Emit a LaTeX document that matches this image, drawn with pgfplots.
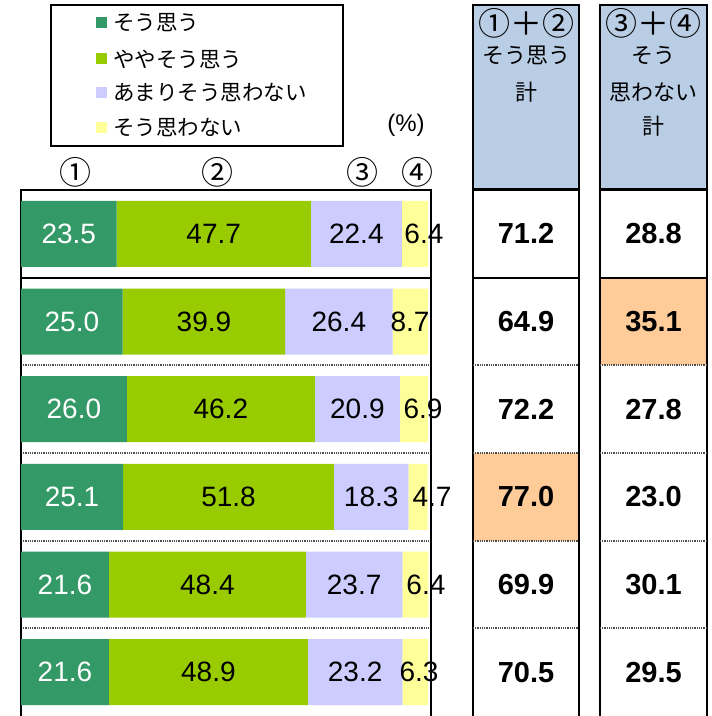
\documentclass[border=0pt]{standalone}
\usepackage{pgfplots}
\pgfplotsset{compat=1.18}
\usepackage{fontspec}
\setmainfont{Liberation Sans}
\newfontfamily\jp{Noto Sans CJK JP}

\definecolor{cA}{HTML}{339966}
\definecolor{cB}{HTML}{99CC00}
\definecolor{cC}{HTML}{CCCCFF}
\definecolor{cD}{HTML}{FFFF99}
\definecolor{hdr}{HTML}{B9CDE5}
\definecolor{hot}{HTML}{FFCC99}

\tikzset{
  sep/.style={line width=1.8pt, draw=black!70, dash pattern=on 0.9pt off 0.9pt},
  frame/.style={line width=1.8pt, draw=black},
}
\pgfplotsset{
  rows/.style={scale only axis, height=526pt, ymin=0.5, ymax=6.5,
    y dir=reverse, hide axis, clip=false, anchor=south west},
  lab/.style={draw=none, mark=none, nodes near coords, point meta=explicit symbolic},
}

\begin{document}
\begin{tikzpicture}[x=1pt,y=1pt]
\useasboundingbox (0,0) rectangle (712,716);

% legend
\draw[line width=1.3pt] (51,711) rectangle (343,570);
\foreach \yy/\cc/\lab in {693/cA/そう思う, 657/cB/ややそう思う, 623/cC/あまりそう思わない, 588/cD/そう思わない}{
  \fill[\cc] (96,\yy-5.5) rectangle (107,\yy+5.5);
  \node[anchor=west, inner sep=0pt, font=\jp\fontsize{21.5}{24}\selectfont] at (113,\yy) {\lab};
}
\node[font=\fontsize{24}{26}\selectfont] at (406,591) {(\%)};
\foreach \xx/\lab in {75/①, 217/②, 362/③, 417/④}
  \node[font=\jp\fontsize{32}{34}\selectfont] at (\xx,544) {\lab};

% stacked bars
\begin{axis}[rows, at={(21pt,0pt)}, width=410pt, xmin=0, xmax=100.74,
  xbar stacked, bar width=66pt]
\addplot[fill=cA, draw=none] coordinates {(23.5,1) (25.0,2) (26.0,3) (25.1,4) (21.6,5) (21.6,6)};
\addplot[fill=cB, draw=none] coordinates {(47.7,1) (39.9,2) (46.2,3) (51.8,4) (48.4,5) (48.9,6)};
\addplot[fill=cC, draw=none] coordinates {(22.4,1) (26.4,2) (20.9,3) (18.3,4) (23.7,5) (23.2,6)};
\addplot[fill=cD, draw=none] coordinates {(6.4,1) (8.7,2) (6.9,3) (4.7,4) (6.4,5) (6.3,6)};
\draw[frame] (axis cs:0,6.5) -- (axis cs:0,0.5) -- (axis cs:100.74,0.5) -- (axis cs:100.74,6.5);
\draw[frame] (axis cs:0,1.5) -- (axis cs:100.74,1.5);
\pgfplotsinvokeforeach{2.5,3.5,4.5,5.5}{\draw[sep] (axis cs:0,#1) -- (axis cs:100.74,#1);}
\end{axis}

% value labels on the bars
\begin{axis}[rows, at={(21pt,0pt)}, width=410pt, xmin=0, xmax=100.74]
\addplot[lab, every node near coord/.style={anchor=center, text=white, font=\fontsize{28}{30}\selectfont}]
  coordinates {(11.75,1)[23.5] (12.5,2)[25.0] (13.0,3)[26.0] (12.55,4)[25.1] (10.8,5)[21.6] (10.8,6)[21.6]};
\addplot[lab, every node near coord/.style={anchor=center, font=\fontsize{28}{30}\selectfont}]
  coordinates {(47.35,1)[47.7] (44.95,2)[39.9] (49.1,3)[46.2] (51.0,4)[51.8] (45.8,5)[48.4] (46.05,6)[48.9]
               (82.4,1)[22.4] (78.1,2)[26.4] (82.65,3)[20.9] (86.05,4)[18.3] (81.85,5)[23.7] (82.1,6)[23.2]
               (99.0,1)[6.4] (95.6,2)[8.7] (98.8,3)[6.9] (101.0,4)[4.7] (99.5,5)[6.4] (97.8,6)[6.3]};
\end{axis}

% total columns
\filldraw[fill=hdr, frame] (473,711) rectangle (579,527);
\filldraw[fill=hdr, frame] (600,711) rectangle (707,527);
\begin{axis}[rows, at={(473pt,0pt)}, width=106pt, xmin=0, xmax=1]
\addplot[xbar, fill=hot, draw=none, bar width=87.67pt, bar shift=0pt] coordinates {(1,4)};
\addplot[lab, every node near coord/.style={anchor=center, font=\bfseries\fontsize{29}{32}\selectfont}]
  coordinates {(0.5,1)[71.2] (0.5,2)[64.9] (0.5,3)[72.2] (0.5,4)[77.0] (0.5,5)[69.9] (0.5,6)[70.5]};
\draw[frame] (axis cs:0,6.5) -- (axis cs:0,0.5) -- (axis cs:1,0.5) -- (axis cs:1,6.5);
\draw[frame] (axis cs:0,1.5) -- (axis cs:1,1.5);
\pgfplotsinvokeforeach{2.5,3.5,4.5,5.5}{\draw[sep] (axis cs:0,#1) -- (axis cs:1,#1);}
\end{axis}
\begin{axis}[rows, at={(600pt,0pt)}, width=107pt, xmin=0, xmax=1]
\addplot[xbar, fill=hot, draw=none, bar width=87.67pt, bar shift=0pt] coordinates {(1,2)};
\addplot[lab, every node near coord/.style={anchor=center, font=\bfseries\fontsize{29}{32}\selectfont}]
  coordinates {(0.5,1)[28.8] (0.5,2)[35.1] (0.5,3)[27.8] (0.5,4)[23.0] (0.5,5)[30.1] (0.5,6)[29.5]};
\draw[frame] (axis cs:0,6.5) -- (axis cs:0,0.5) -- (axis cs:1,0.5) -- (axis cs:1,6.5);
\draw[frame] (axis cs:0,1.5) -- (axis cs:1,1.5);
\pgfplotsinvokeforeach{2.5,3.5,4.5,5.5}{\draw[sep] (axis cs:0,#1) -- (axis cs:1,#1);}
\end{axis}

% header texts
\begin{scope}[every node/.style={font=\jp\fontsize{22}{24}\selectfont, inner sep=0pt}]
\node[font=\jp\fontsize{32}{34}\selectfont] at (526,693) {①＋②};
\node at (526,661) {そう思う};
\node at (526,624) {計};
\node[font=\jp\fontsize{32}{34}\selectfont] at (653.5,693) {③＋④};
\node at (653.5,661) {そう};
\node at (653.5,624) {思わない};
\node at (653.5,590) {計};
\end{scope}
\end{tikzpicture}
\end{document}
